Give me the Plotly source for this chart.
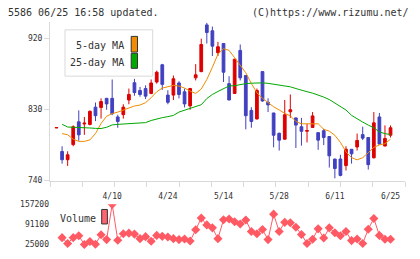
import plotly.graph_objects as go

# ---------------- data ----------------
tick_labels = ["4/10", "4/24", "5/14", "5/28", "6/11", "6/25"]
tick_index = [10, 20, 30, 40, 50, 60]

opens = [806.8, 776.9, 766.5, 785.6, 814.5, 811.8, 811.2, 833.1, 832.7, 844.3,
         844.3, 820.7, 823.6, 842.2, 864.1, 854.2, 856.7, 850.5, 865.0, 886.9,
         848.4, 848.4, 863.8, 852.6, 834.7, 870.3, 878.2, 937.4, 930.0, 902.2,
         913.8, 862.9, 850.5, 905.1, 873.2, 829.0, 818.2, 878.2, 839.3, 825.7,
         800.0, 792.5, 827.3, 819.5, 808.3, 802.6, 807.4, 800.8, 803.3, 795.9,
         767.3, 767.3, 759.0, 779.7, 782.6, 798.3, 794.6, 768.9, 820.7, 783.8,
         797.5]
highs = [807.2, 783.5, 777.2, 810.0, 829.0, 820.7, 829.0, 839.0, 844.3, 844.8,
         868.2, 823.5, 836.8, 856.7, 869.0, 858.8, 860.8, 868.2, 879.4, 888.0,
         854.6, 873.2, 866.0, 856.7, 857.5, 887.7, 920.0, 940.0, 935.3, 915.9,
         914.5, 872.4, 894.5, 912.6, 873.5, 833.0, 856.7, 878.5, 844.3, 826.0,
         800.8, 842.2, 849.2, 819.8, 819.5, 812.0, 826.9, 801.0, 805.8, 796.2,
         767.6, 772.7, 783.5, 780.0, 799.6, 808.3, 794.9, 826.9, 825.7, 810.0,
         810.0]
lows = [806.8, 761.5, 758.6, 783.5, 790.5, 798.0, 810.0, 815.4, 818.6, 829.8,
        823.0, 807.0, 818.6, 836.8, 847.6, 846.4, 843.4, 849.5, 862.9, 855.0,
        836.8, 842.2, 844.3, 832.7, 829.8, 867.0, 877.4, 913.8, 898.0, 898.0,
        865.0, 842.0, 850.0, 867.0, 805.0, 807.0, 817.4, 840.0, 826.9, 782.2,
        778.1, 791.5, 819.5, 781.3, 784.3, 788.4, 807.0, 779.0, 785.0, 756.5,
        742.9, 745.4, 752.8, 761.5, 778.1, 791.3, 754.0, 768.0, 786.0, 783.5,
        794.6]
closes = [807.2, 766.5, 772.7, 808.3, 798.0, 812.8, 827.8, 822.3, 840.2, 837.2,
          824.8, 814.9, 833.1, 849.2, 851.7, 849.2, 847.1, 863.8, 877.4, 862.0,
          839.3, 869.1, 849.2, 837.2, 856.7, 874.1, 912.6, 927.8, 910.5, 909.7,
          877.4, 842.2, 893.9, 870.3, 822.3, 814.9, 854.2, 841.0, 836.0, 797.5,
          791.3, 823.5, 829.8, 810.4, 802.5, 803.4, 822.0, 791.3, 794.6, 771.4,
          755.3, 746.6, 779.7, 773.9, 790.9, 793.8, 760.2, 813.2, 786.3, 793.4,
          807.0]

ma5 = [None, 799.6, 798.1, 792.5, 789.7, 789.7, 791.6, 799.6, 812.4, 821.6,
       824.9, 826.8, 829.3, 832.7, 834.6, 835.8, 838.8, 845.1, 852.7, 857.3,
       859.5, 860.7, 859.9, 857.3, 853.5, 850.5, 856.1, 868.2, 883.6, 900.3,
       907.2, 905.1, 895.8, 886.1, 876.7, 863.1, 851.4, 844.3, 838.7, 833.6,
       829.6, 825.2, 822.1, 815.0, 812.0, 812.0, 812.0, 812.0, 805.0, 802.7,
       797.4, 788.5, 776.5, 769.1, 766.3, 769.0, 775.3, 782.2, 785.2, 786.8,
       792.5]
ma25 = [None, 811.4, 807.9, 807.6, 807.5, 807.0, 806.7, 806.2, 806.0, 807.6,
        810.6, 811.3, 811.6, 812.0, 812.5, 812.9, 813.5, 816.2, 818.2, 819.8,
        821.1, 822.6, 826.9, 829.1, 830.9, 833.2, 836.2, 844.0, 849.2, 853.0,
        856.4, 860.0, 860.3, 861.8, 863.0, 863.5, 863.9, 863.9, 863.3, 862.3,
        861.0, 860.0, 858.9, 856.7, 854.3, 852.7, 850.9, 848.6, 845.9, 842.8,
        838.1, 833.6, 829.5, 822.7, 818.0, 814.2, 810.4, 807.0, 801.8, 799.5,
        798.4]

volume = [None, 47600, 28200, 47600, 54000, 25000, 34700, 26000, 57200, 41100,
          157200, 38900, 60500, 62400, 59200, 44300, 50800, 35600, 55000, 51800,
          49500, 44300, 41100, 43000, 36600, 73400, 112000, 89500, 79800, 44300,
          106600, 108800, 100100, 92700, 105600, 67900, 60500, 74400, 41100, 125000,
          67900, 97900, 96900, 81700, 58200, 28200, 42100, 76600, 46300, 79800,
          63700, 54000, 67900, 37900, 43000, 28200, 75300, 110800, 55000, 42100,
          42100]
vol_ticks = [25000, 91100, 157200]
price_ticks = [740, 830, 920]

idx = list(range(len(closes)))

# ---------------- styling ----------------
RED = "#dd0000"
BLUE = "#4040c0"
ORANGE = "#f08c00"
GREEN = "#00a800"
VOLC = "#ff5a64"
AX = "#d9d9d9"
TXT = "#333333"
MONO = "DejaVu Sans Mono"

W, H = 420, 259
ML, MR, MT, MB = 50, 15, 22, 0
PW, PH = W - ML - MR, H - MT - MB


def px(x):
    return (x - ML) / PW


def py(y):
    return (H - MB - y) / PH


fig = go.Figure()
fig.add_trace(go.Candlestick(
    x=idx, open=opens, high=highs, low=lows, close=closes,
    increasing=dict(line=dict(color=RED, width=1), fillcolor=RED),
    decreasing=dict(line=dict(color=BLUE, width=1), fillcolor=BLUE),
    whiskerwidth=0, showlegend=False, hoverinfo="skip", xaxis="x", yaxis="y"))
fig.add_trace(go.Scatter(x=idx, y=ma5, mode="lines", line=dict(color=ORANGE, width=1),
                         showlegend=False, hoverinfo="skip", xaxis="x", yaxis="y"))
fig.add_trace(go.Scatter(x=idx, y=ma25, mode="lines", line=dict(color=GREEN, width=1),
                         showlegend=False, hoverinfo="skip", xaxis="x", yaxis="y"))
fig.add_trace(go.Scatter(x=idx, y=volume, mode="lines+markers",
                         line=dict(color=VOLC, width=1),
                         marker=dict(symbol="diamond", size=7, color=VOLC),
                         showlegend=False, hoverinfo="skip", xaxis="x2", yaxis="y2"))
# invisible trace so the tick-mark overlay axis is drawn
fig.add_trace(go.Scatter(x=[None], y=[None], xaxis="x3", yaxis="y",
                         showlegend=False, hoverinfo="skip"))

xr = [-1.17, 62.6]
price_bottom_px = 184
vol_top_px = 208.3

fig.update_layout(
    width=W, height=H, margin=dict(l=ML, r=MR, t=MT, b=MB),
    paper_bgcolor="white", plot_bgcolor="white",
    font=dict(family=MONO, size=8, color=TXT),
    xaxis=dict(domain=[0, 1], range=xr, anchor="y", tickmode="array",
               tickvals=tick_index, ticktext=tick_labels, ticks="",
               showline=True, linecolor=AX, linewidth=1, showgrid=False,
               zeroline=False, rangeslider=dict(visible=False),
               tickfont=dict(size=8, color=TXT), ticklabelstandoff=8),
    xaxis2=dict(domain=[0, 1], range=xr, anchor="y2", visible=False),
    xaxis3=dict(overlaying="x", anchor="y", range=[0, 11], tickmode="array",
                tickvals=list(range(12)), ticks="outside", ticklen=5,
                tickcolor=AX, showticklabels=False, showgrid=False,
                zeroline=False, showline=False, side="bottom"),
    yaxis=dict(domain=[py(price_bottom_px), 1], range=[740, 941.1],
               tickmode="array", tickvals=price_ticks, ticks="outside",
               ticklen=5, tickcolor=AX, showline=True, linecolor=AX,
               showgrid=False, zeroline=False, tickfont=dict(size=8, color=TXT)),
    yaxis2=dict(domain=[0, py(vol_top_px)], range=[-6277, 157200],
                tickmode="array", tickvals=vol_ticks,
                ticktext=[str(v) for v in vol_ticks], ticks="",
                showline=False, showgrid=False, zeroline=False,
                tickfont=dict(size=8, color=TXT)),
    showlegend=False,
)

shapes = []
annotations = []
# legend box for moving averages
shapes.append(dict(type="rect", xref="paper", yref="paper",
                   x0=px(65), x1=px(152.7), y0=py(77.3), y1=py(30),
                   line=dict(color=AX, width=1), fillcolor="white", layer="above"))
for (label, col, yc, y0, y1) in [("5-day MA", ORANGE, 46, 36.7, 52.7),
                                  ("25-day MA", GREEN, 63.3, 54, 69.3)]:
    shapes.append(dict(type="rect", xref="paper", yref="paper",
                       x0=px(131.2), x1=px(137.5), y0=py(y1), y1=py(y0),
                       line=dict(color="#333333", width=1), fillcolor=col, layer="above"))
    annotations.append(dict(text=label, xref="paper", yref="paper", x=px(124.5), y=py(yc),
                            xanchor="right", yanchor="middle", showarrow=False,
                            borderpad=0, font=dict(family=MONO, size=10, color=TXT)))
# volume legend
annotations.append(dict(text="Volume", xref="paper", yref="paper", x=px(58.5), y=py(222.3),
                        xanchor="left", yanchor="middle", showarrow=False, borderpad=0,
                        font=dict(family=MONO, size=10, color=TXT)))
shapes.append(dict(type="rect", xref="paper", yref="paper",
                   x0=px(101.7), x1=px(107.4), y0=py(228.3), y1=py(213.5),
                   line=dict(color="#333333", width=1), fillcolor="#ff6470", layer="above"))
# header
annotations.append(dict(text="5586 06/25 16:58 updated.", xref="paper", yref="paper",
                        x=px(7), y=py(12.5), xanchor="left", yanchor="middle",
                        showarrow=False, borderpad=0,
                        font=dict(family=MONO, size=10, color=TXT)))
annotations.append(dict(text="(C)https://www.rizumu.net/", xref="paper", yref="paper",
                        x=px(409.5), y=py(12.5), xanchor="right", yanchor="middle",
                        showarrow=False, borderpad=0,
                        font=dict(family=MONO, size=10, color=TXT)))
fig.update_layout(shapes=shapes, annotations=annotations)

fig.write_html("out.html")
